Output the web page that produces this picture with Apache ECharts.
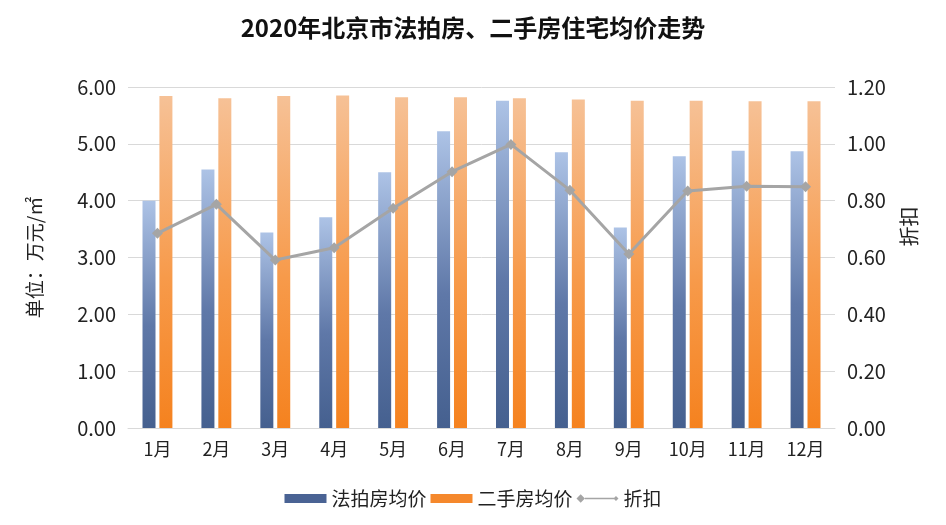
<!DOCTYPE html>
<html>
<head>
<meta charset="utf-8">
<script src="https://cdn.jsdelivr.net/npm/echarts@6/dist/echarts.min.js"></script>
<style>html,body{margin:0;padding:0;background:#fff}#c{width:946px;height:525px}</style>
</head>
<body>
<div id="c"></div>
<script>
const categories = ['1月','2月','3月','4月','5月','6月','7月','8月','9月','10月','11月','12月'];
const auctionPrice = [4.00, 4.55, 3.44, 3.71, 4.50, 5.22, 5.76, 4.85, 3.53, 4.78, 4.88, 4.87];
const resalePrice = [5.84, 5.80, 5.84, 5.85, 5.82, 5.82, 5.80, 5.78, 5.76, 5.76, 5.75, 5.75];
const discount = [0.685, 0.787, 0.591, 0.634, 0.773, 0.902, 0.998, 0.837, 0.612, 0.834, 0.851, 0.849];

const FONT = '"Noto Sans CJK SC", "Noto Sans", sans-serif';
const chart = echarts.init(document.getElementById('c'), null, {renderer: 'canvas'});
const grad = (top, mid, bot) => new echarts.graphic.LinearGradient(0, 0, 0, 1, [
  {offset: 0, color: top}, {offset: 0.55, color: mid}, {offset: 1, color: bot}
]);
const lineIcon = 'path://M0,5L5,0L10,5L5,10Z M10,4.2L46,4.2L46,5.8L10,5.8Z M44,5L47,2L50,5L47,8Z';
chart.setOption({
  animation: false,
  backgroundColor: '#fff',
  textStyle: {fontFamily: FONT},
  title: {
    text: '2020年北京市法拍房、二手房住宅均价走势',
    left: 'center', top: 11,
    textStyle: {fontFamily: FONT, fontSize: 24, fontWeight: 'bold', color: '#111'}
  },
  legend: {
    bottom: 12, left: 'center',
    itemGap: 4,
    textStyle: {fontFamily: FONT, fontSize: 19, color: '#222'},
    data: [
      {name: '法拍房均价', icon: 'rect', itemStyle: {color: '#4a6394'}},
      {name: '二手房均价', icon: 'rect', itemStyle: {color: '#f5882c'}},
      {name: '折扣', icon: lineIcon, itemStyle: {color: '#a5a5a5'}}
    ],
    itemWidth: 42, itemHeight: 9
  },
  grid: {left: 128, right: 111, top: 87, bottom: 97},
  xAxis: {
    type: 'category', data: categories,
    axisLine: {lineStyle: {color: '#d9d9d9', width: 1}},
    axisTick: {show: false},
    axisLabel: {fontFamily: FONT, fontSize: 18, color: '#222', margin: 12}
  },
  yAxis: [
    {
      type: 'value', min: 0, max: 6, interval: 1,
      name: '单位：万元/㎡', nameLocation: 'middle', nameGap: 84, nameRotate: 90,
      nameTextStyle: {fontFamily: FONT, fontSize: 19, color: '#222'},
      axisLine: {show: false},
      axisTick: {show: false},
      splitLine: {lineStyle: {color: '#d9d9d9', width: 1}},
      axisLabel: {fontFamily: FONT, fontSize: 20, color: '#222', margin: 12,
        formatter: v => v.toFixed(2)}
    },
    {
      type: 'value', min: 0, max: 1.2, interval: 0.2,
      name: '折扣', nameLocation: 'middle', nameGap: 64, nameRotate: 90,
      nameTextStyle: {fontFamily: FONT, fontSize: 20, color: '#222', padding: [0, 0, 0, 62]},
      axisLine: {show: false},
      axisTick: {show: false},
      splitLine: {show: false},
      axisLabel: {fontFamily: FONT, fontSize: 20, color: '#222', margin: 12,
        formatter: v => v.toFixed(2)}
    }
  ],
  series: [
    {
      name: '法拍房均价', type: 'bar', data: auctionPrice, yAxisIndex: 0,
      barWidth: 13, barGap: '30%',
      itemStyle: {color: grad('#adc3e6', '#5f78a8', '#45608f')}
    },
    {
      name: '二手房均价', type: 'bar', data: resalePrice, yAxisIndex: 0,
      barWidth: 13,
      itemStyle: {color: grad('#f6c196', '#f79a4a', '#f5821f')}
    },
    {
      name: '折扣', type: 'line', data: discount, yAxisIndex: 1,
      symbol: 'diamond', symbolSize: 11,
      lineStyle: {color: '#a5a5a5', width: 3},
      itemStyle: {color: '#a5a5a5'}
    }
  ]
});
</script>
</body>
</html>
